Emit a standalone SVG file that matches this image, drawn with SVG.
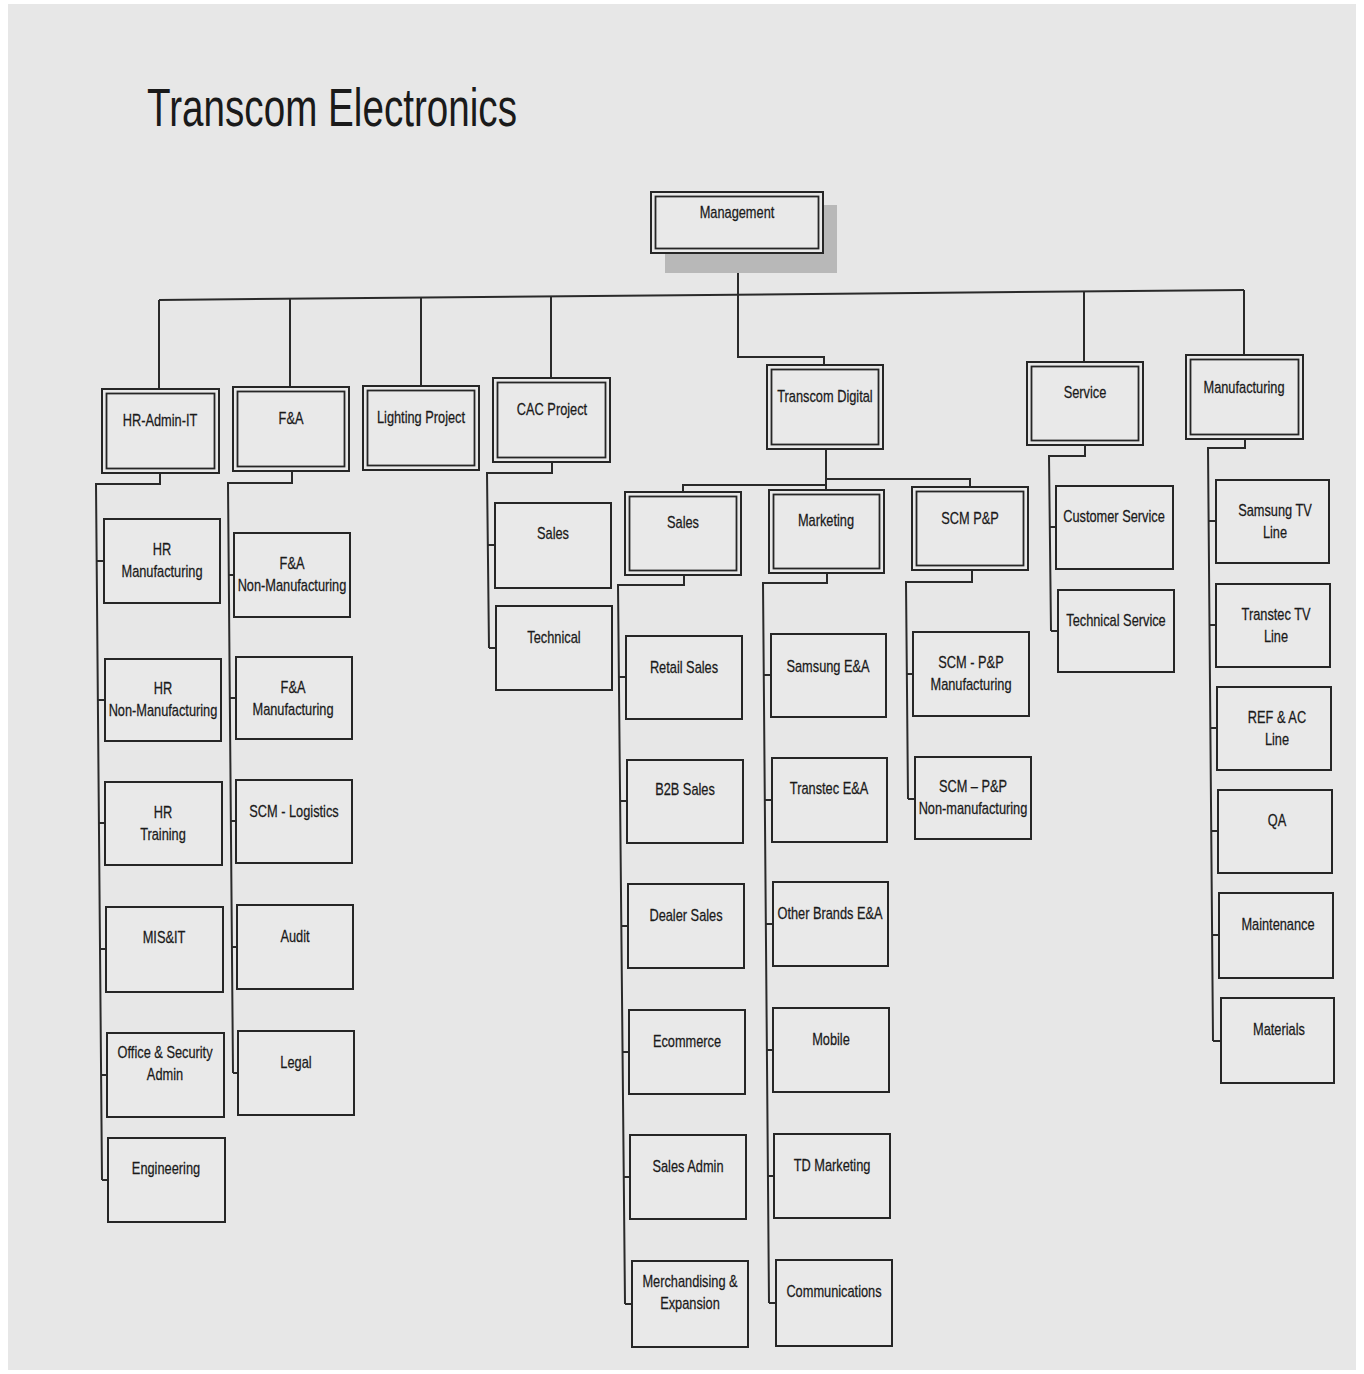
<svg xmlns="http://www.w3.org/2000/svg" width="1364" height="1374" viewBox="0 0 1364 1374">
<style>
.bx{fill:#e9e9e9;stroke:#262626;stroke-width:2}
.in{fill:none;stroke:#262626;stroke-width:1.8}
.ln{fill:none;stroke:#2a2a2a;stroke-width:2}
.t{font-family:"Liberation Sans",Arial,sans-serif;font-size:16px;fill:#1a1a1a;stroke:#1a1a1a;stroke-width:0.25;text-anchor:middle;transform:scaleX(0.8);transform-box:fill-box;transform-origin:center}
.title{font-family:"Liberation Sans",Arial,sans-serif;font-size:53px;fill:#1a1a1a}
</style>
<rect x="0" y="0" width="1364" height="1374" fill="#ffffff"/>
<rect x="8" y="4" width="1348" height="1366" fill="#e7e7e7"/>
<text class="title" x="147" y="126" textLength="370" lengthAdjust="spacingAndGlyphs">Transcom Electronics</text>

<g id="connectors">
<path class="ln" d="M159,300 L1244,290"/>
<path class="ln" d="M159,300 V389 M290,299 V387 M421,298 V386 M551,296 V378 M1084,292 V362 M1244,290 V355"/>
<path class="ln" d="M738,253 V357 H824 V365"/>
<path class="ln" d="M826,449 V490 M826,485 H683 V492 M826,479 H970 V487"/>
<path class="ln" d="M160,474 V484 H96 L102,1180 M96.7,561 H104 M97.9,700 H105 M98.9,823 H105 M100,949 H106 M101.1,1075 H107 M102,1180 H108"/>
<path class="ln" d="M292,472 V483 H228 L233,1073 M228.8,575 H234 M229.8,698 H236 M230.9,821 H236 M231.9,947 H237 M233,1073 H238"/>
<path class="ln" d="M552,462 V473 H487 L489,648 M487.8,545 H495 M489,648 H496"/>
<path class="ln" d="M684,575 V585 H618 L625,1304 M618.9,677 H626 M620.1,801 H627 M621.4,926 H628 M622.5,1052 H629 M623.8,1177 H630 M625,1304 H632"/>
<path class="ln" d="M827,573 V583 H763 L769,1303 M763.8,675 H771 M764.9,800 H772 M765.9,924 H773 M767,1050 H773 M768,1176 H774 M769,1303 H776"/>
<path class="ln" d="M972,570 V582 H906 L908,799 M906.8,674 H913 M908,799 H915"/>
<path class="ln" d="M1085,445 V456 H1049 L1051,631 M1049.8,527 H1056 M1051,631 H1058"/>
<path class="ln" d="M1245,439 V448 H1208 L1213,1041 M1208.6,521 H1216 M1209.5,625 H1216 M1210.4,728 H1217 M1211.3,831 H1218 M1212.1,935 H1219 M1213,1041 H1221"/>
</g>

<g id="management">
<rect x="665" y="205" width="172" height="68" fill="#b8b8b8"/>
<rect class="bx" x="651" y="192" width="172" height="61"/>
<rect class="in" x="655.5" y="196.5" width="163" height="52"/>
<text class="t" x="737" y="218">Management</text>
</g>

<g id="hr-admin-it">
<rect class="bx" x="102" y="389" width="117" height="84"/>
<rect class="in" x="106.5" y="393.5" width="108" height="75"/>
<text class="t" x="160" y="426">HR-Admin-IT</text>
</g>
<g id="fa">
<rect class="bx" x="233" y="387" width="116" height="84"/>
<rect class="in" x="237.5" y="391.5" width="107" height="75"/>
<text class="t" x="291" y="424">F&amp;A</text>
</g>
<g id="lighting-project">
<rect class="bx" x="363" y="386" width="116" height="84"/>
<rect class="in" x="367.5" y="390.5" width="107" height="75"/>
<text class="t" x="421" y="423">Lighting Project</text>
</g>
<g id="cac-project">
<rect class="bx" x="493" y="378" width="117" height="84"/>
<rect class="in" x="497.5" y="382.5" width="108" height="75"/>
<text class="t" x="552" y="415">CAC Project</text>
</g>
<g id="transcom-digital">
<rect class="bx" x="767" y="365" width="116" height="84"/>
<rect class="in" x="771.5" y="369.5" width="107" height="75"/>
<text class="t" x="825" y="402">Transcom Digital</text>
</g>
<g id="service">
<rect class="bx" x="1027" y="362" width="116" height="83"/>
<rect class="in" x="1031.5" y="366.5" width="107" height="74"/>
<text class="t" x="1085" y="398">Service</text>
</g>
<g id="manufacturing">
<rect class="bx" x="1186" y="355" width="117" height="84"/>
<rect class="in" x="1190.5" y="359.5" width="108" height="75"/>
<text class="t" x="1244" y="393">Manufacturing</text>
</g>

<g id="td-sales">
<rect class="bx" x="625" y="492" width="116" height="83"/>
<rect class="in" x="629.5" y="496.5" width="107" height="74"/>
<text class="t" x="683" y="528">Sales</text>
</g>
<g id="td-marketing">
<rect class="bx" x="769" y="490" width="115" height="83"/>
<rect class="in" x="773.5" y="494.5" width="106" height="74"/>
<text class="t" x="826" y="526">Marketing</text>
</g>
<g id="scm-pp">
<rect class="bx" x="912" y="487" width="116" height="83"/>
<rect class="in" x="916.5" y="491.5" width="107" height="74"/>
<text class="t" x="970" y="524">SCM P&amp;P</text>
</g>

<g id="hr-manufacturing"><rect class="bx" x="104" y="519" width="116" height="84"/><text class="t" x="162" y="555">HR</text><text class="t" x="162" y="577">Manufacturing</text></g>
<g id="hr-non-manufacturing"><rect class="bx" x="105" y="659" width="116" height="82"/><text class="t" x="163" y="694">HR</text><text class="t" x="163" y="716">Non-Manufacturing</text></g>
<g id="hr-training"><rect class="bx" x="105" y="782" width="117" height="83"/><text class="t" x="163" y="818">HR</text><text class="t" x="163" y="840">Training</text></g>
<g id="mis-it"><rect class="bx" x="106" y="907" width="117" height="85"/><text class="t" x="164" y="943">MIS&amp;IT</text></g>
<g id="office-security"><rect class="bx" x="107" y="1033" width="117" height="84"/><text class="t" x="165" y="1058">Office &amp; Security</text><text class="t" x="165" y="1080">Admin</text></g>
<g id="engineering"><rect class="bx" x="108" y="1138" width="117" height="84"/><text class="t" x="166" y="1174">Engineering</text></g>

<g id="fa-non-manufacturing"><rect class="bx" x="234" y="533" width="116" height="84"/><text class="t" x="292" y="569">F&amp;A</text><text class="t" x="292" y="591">Non-Manufacturing</text></g>
<g id="fa-manufacturing"><rect class="bx" x="236" y="657" width="116" height="82"/><text class="t" x="293" y="693">F&amp;A</text><text class="t" x="293" y="715">Manufacturing</text></g>
<g id="scm-logistics"><rect class="bx" x="236" y="780" width="116" height="83"/><text class="t" x="294" y="817">SCM - Logistics</text></g>
<g id="audit"><rect class="bx" x="237" y="905" width="116" height="84"/><text class="t" x="295" y="942">Audit</text></g>
<g id="legal"><rect class="bx" x="238" y="1031" width="116" height="84"/><text class="t" x="296" y="1068">Legal</text></g>

<g id="cac-sales"><rect class="bx" x="495" y="503" width="116" height="85"/><text class="t" x="553" y="539">Sales</text></g>
<g id="cac-technical"><rect class="bx" x="496" y="606" width="116" height="84"/><text class="t" x="554" y="643">Technical</text></g>

<g id="retail-sales"><rect class="bx" x="626" y="636" width="116" height="83"/><text class="t" x="684" y="673">Retail Sales</text></g>
<g id="b2b-sales"><rect class="bx" x="627" y="760" width="116" height="83"/><text class="t" x="685" y="795">B2B Sales</text></g>
<g id="dealer-sales"><rect class="bx" x="628" y="884" width="116" height="84"/><text class="t" x="686" y="921">Dealer Sales</text></g>
<g id="ecommerce"><rect class="bx" x="629" y="1010" width="116" height="84"/><text class="t" x="687" y="1047">Ecommerce</text></g>
<g id="sales-admin"><rect class="bx" x="630" y="1135" width="116" height="84"/><text class="t" x="688" y="1172">Sales Admin</text></g>
<g id="merchandising"><rect class="bx" x="632" y="1261" width="116" height="86"/><text class="t" x="690" y="1287">Merchandising &amp;</text><text class="t" x="690" y="1309">Expansion</text></g>

<g id="samsung-ea"><rect class="bx" x="771" y="634" width="115" height="83"/><text class="t" x="828" y="672">Samsung E&amp;A</text></g>
<g id="transtec-ea"><rect class="bx" x="772" y="758" width="115" height="84"/><text class="t" x="829" y="794">Transtec E&amp;A</text></g>
<g id="other-brands-ea"><rect class="bx" x="773" y="882" width="115" height="84"/><text class="t" x="830" y="919">Other Brands E&amp;A</text></g>
<g id="mobile"><rect class="bx" x="773" y="1008" width="116" height="84"/><text class="t" x="831" y="1045">Mobile</text></g>
<g id="td-marketing-child"><rect class="bx" x="774" y="1134" width="116" height="84"/><text class="t" x="832" y="1171">TD Marketing</text></g>
<g id="communications"><rect class="bx" x="776" y="1260" width="116" height="86"/><text class="t" x="834" y="1297">Communications</text></g>

<g id="scm-pp-mfg"><rect class="bx" x="913" y="632" width="116" height="84"/><text class="t" x="971" y="668">SCM - P&amp;P</text><text class="t" x="971" y="690">Manufacturing</text></g>
<g id="scm-pp-nonmfg"><rect class="bx" x="915" y="757" width="116" height="82"/><text class="t" x="973" y="792">SCM – P&amp;P</text><text class="t" x="973" y="814">Non-manufacturing</text></g>

<g id="customer-service"><rect class="bx" x="1056" y="486" width="117" height="83"/><text class="t" x="1114" y="522">Customer Service</text></g>
<g id="technical-service"><rect class="bx" x="1058" y="590" width="116" height="82"/><text class="t" x="1116" y="626">Technical Service</text></g>

<g id="samsung-tv"><rect class="bx" x="1216" y="480" width="113" height="83"/><text class="t" x="1275" y="516">Samsung TV</text><text class="t" x="1275" y="538">Line</text></g>
<g id="transtec-tv"><rect class="bx" x="1216" y="584" width="114" height="83"/><text class="t" x="1276" y="620">Transtec TV</text><text class="t" x="1276" y="642">Line</text></g>
<g id="ref-ac"><rect class="bx" x="1217" y="687" width="114" height="83"/><text class="t" x="1277" y="723">REF &amp; AC</text><text class="t" x="1277" y="745">Line</text></g>
<g id="qa"><rect class="bx" x="1218" y="790" width="114" height="83"/><text class="t" x="1277" y="826">QA</text></g>
<g id="maintenance"><rect class="bx" x="1219" y="893" width="114" height="85"/><text class="t" x="1278" y="930">Maintenance</text></g>
<g id="materials"><rect class="bx" x="1221" y="998" width="113" height="85"/><text class="t" x="1279" y="1035">Materials</text></g>
</svg>
